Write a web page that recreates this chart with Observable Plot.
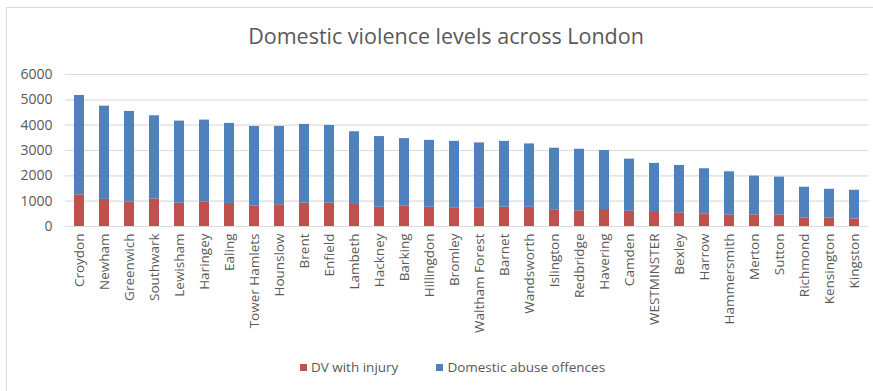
<!DOCTYPE html>
<html>
<head>
<meta charset="utf-8">
<script src="https://cdn.jsdelivr.net/npm/d3@7"></script>
<script src="https://cdn.jsdelivr.net/npm/@observablehq/plot@0.6"></script>
<style>
  html, body { margin: 0; padding: 0; background: #fff; }
  #wrap { position: relative; width: 873px; height: 391px; overflow: hidden; font-family: "Open Sans", sans-serif; color: #595959; }
  #frame { position: absolute; left: 6px; top: 7px; width: 880px; height: 400px; border-top: 1px solid #d9d9d9; border-left: 1px solid #d9d9d9; pointer-events: none; }
  #title { box-sizing: border-box; width: 873px; height: 60px; padding-top: 23px; padding-left: 19px; text-align: center; font-size: 21.5px; line-height: 26px; color: #595959; }
  #legend { box-sizing: border-box; width: 873px; height: 46px; display: flex; justify-content: center; align-items: center; padding-left: 32px; padding-bottom: 2px; font-size: 13.5px; color: #595959; }
  .item { display: flex; align-items: center; margin: 0 19px; }
  .sw { width: 7px; height: 7px; margin-right: 4px; }
  svg { display: block; }
</style>
</head>
<body>
<div id="wrap">
  <div id="title">Domestic violence levels across London</div>
  <div id="chart"></div>
  <div id="legend"></div>
  <div id="frame"></div>
</div>
<script>
const boroughs = ["Croydon","Newham","Greenwich","Southwark","Lewisham","Haringey","Ealing","Tower Hamlets","Hounslow","Brent","Enfield","Lambeth","Hackney","Barking","Hillingdon","Bromley","Waltham Forest","Barnet","Wandsworth","Islington","Redbridge","Havering","Camden","WESTMINSTER","Bexley","Harrow","Hammersmith","Merton","Sutton","Richmond","Kensington","Kingston"];
const dvWithInjury = [1250,1070,960,1090,920,960,910,800,860,920,920,870,760,800,760,720,720,760,760,660,620,670,600,590,540,500,460,460,460,340,340,300];
const domesticAbuse = [3920,3680,3580,3280,3240,3240,3160,3150,3090,3110,3070,2870,2790,2670,2640,2640,2580,2600,2500,2430,2430,2330,2060,1900,1870,1780,1700,1530,1490,1210,1130,1130];
const seriesNames = ["DV with injury","Domestic abuse offences"];
const seriesColors = ["#c0504d","#4f81bd"];
const yTicks = [0,1000,2000,3000,4000,5000,6000];

const data = [];
boroughs.forEach((b, i) => {
  data.push({borough: b, series: seriesNames[0], value: dvWithInjury[i]});
  data.push({borough: b, series: seriesNames[1], value: domesticAbuse[i]});
});

const chart = Plot.plot({
  width: 873,
  height: 285,
  marginTop: 14,
  marginBottom: 119,
  marginLeft: 65,
  marginRight: 4.5,
  style: {fontFamily: "Open Sans, sans-serif", fontSize: "13.5px", color: "#595959", background: "transparent"},
  x: {domain: boroughs, paddingInner: 0.6, paddingOuter: 0.3, label: null},
  y: {domain: [0, 6000], label: null},
  color: {domain: seriesNames, range: seriesColors},
  marks: [
    Plot.gridY(yTicks, {stroke: "#dcdcdc", strokeOpacity: 1, strokeWidth: 1.2}),
    Plot.barY(data, Plot.stackY({x: "borough", y: "value", fill: "series", order: seriesNames})),
    Plot.axisY({ticks: yTicks, tickSize: 0, tickPadding: 13, label: null, tickFormat: d => String(d), fontSize: 14}),
    Plot.axisX({tickSize: 0, tickRotate: -90, tickPadding: 7, label: null})
  ]
});
document.getElementById("chart").appendChild(chart);

const legend = document.getElementById("legend");
seriesNames.forEach((name, i) => {
  const it = document.createElement("div");
  it.className = "item";
  const sw = document.createElement("div");
  sw.className = "sw";
  sw.style.background = seriesColors[i];
  const tx = document.createElement("span");
  tx.textContent = name;
  it.appendChild(sw); it.appendChild(tx);
  legend.appendChild(it);
});
</script>
</body>
</html>
